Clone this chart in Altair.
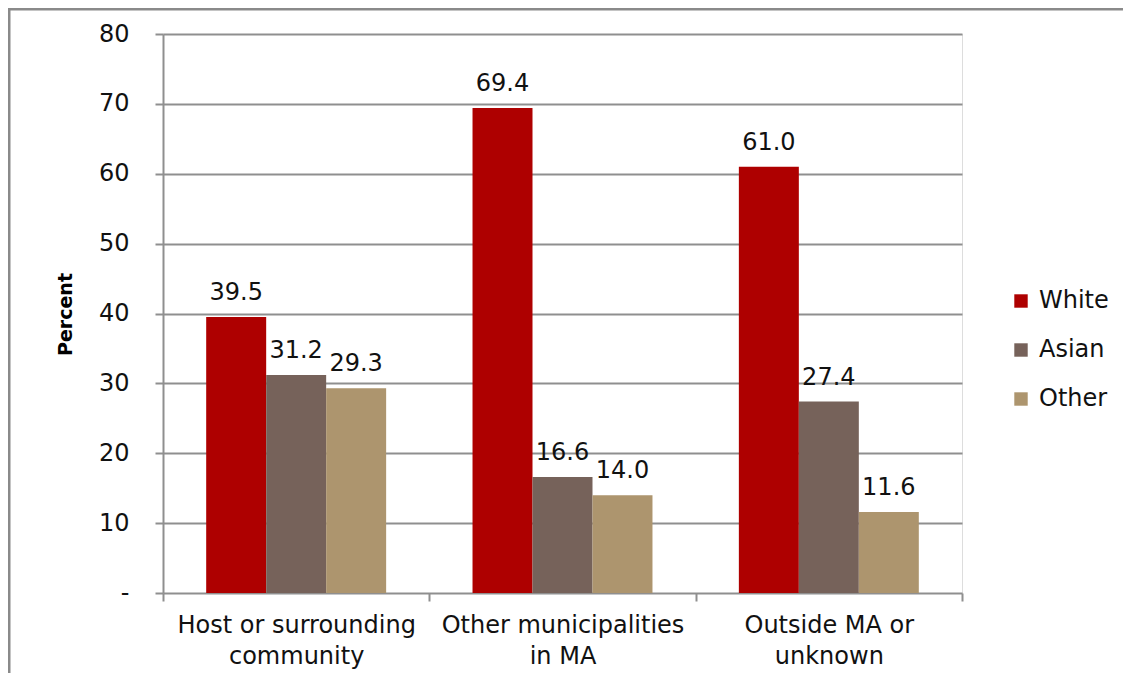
import altair as alt
import pandas as pd

categories = ["Host or surrounding community", "Other municipalities in MA", "Outside MA or unknown"]
category_lines = {
    "Host or surrounding community": ["Host or surrounding", "community"],
    "Other municipalities in MA": ["Other municipalities", "in MA"],
    "Outside MA or unknown": ["Outside MA or", "unknown"],
}
groups = ["White", "Asian", "Other"]
white = [39.5, 69.4, 61.0]
asian = [31.2, 16.6, 27.4]
other = [29.3, 14.0, 11.6]
colors = ["#AE0000", "#76625A", "#AD956E"]

rows = []
for i, c in enumerate(categories):
    for g, vals in zip(groups, [white, asian, other]):
        rows.append({"category": c, "group": g, "value": vals[i]})
df = pd.DataFrame(rows)

label_expr = "{" + ", ".join(
    f"'{k}': {list(v)}" for k, v in category_lines.items()
) + "}[datum.label]"

FONT = "DejaVu Sans"
GRID = "#8f8f8f"

x = alt.X(
    "category:N",
    sort=categories,
    title=None,
    scale=alt.Scale(paddingInner=0, paddingOuter=0),
    axis=alt.Axis(
        tickBand="extent",
        labelAngle=0,
        labelExpr=label_expr,
        labelLimit=0,
        labelFont=FONT,
        labelFontSize=24,
        labelColor="#111111",
        labelLineHeight=31,
        labelPadding=12,
        tickSize=8,
        tickColor=GRID,
        tickWidth=2,
        domain=False,
        grid=False,
    ),
)
xoff = alt.XOffset("group:N", sort=groups, scale=alt.Scale(paddingInner=0, paddingOuter=0.72))

base = alt.Chart(df).encode(x=x, xOffset=xoff)

bars = base.mark_bar().encode(
    y=alt.Y(
        "value:Q",
        title="Percent",
        scale=alt.Scale(domain=[0, 80]),
        axis=alt.Axis(
            values=[0, 10, 20, 30, 40, 50, 60, 70, 80],
            labelExpr="datum.value == 0 ? '-' : datum.label",
            labelFont=FONT,
            labelFontSize=24,
            labelColor="#111111",
            labelPadding=26,
            tickSize=8,
            tickColor=GRID,
            tickWidth=2,
            domain=True,
            domainColor=GRID,
            domainWidth=2,
            gridColor=GRID,
            gridWidth=2,
            gridOpacity=1,
            titleFont=FONT,
            titleFontSize=19,
            titleFontWeight="bold",
            titleColor="#000000",
            titleAngle=270,
            titleX=-98,
            titleY=280,
            titleAlign="center",
            titleBaseline="middle",
        ),
    ),
    color=alt.Color(
        "group:N",
        sort=groups,
        scale=alt.Scale(domain=groups, range=colors),
        legend=alt.Legend(
            title=None,
            orient="none",
            legendX=846,
            legendY=255,
            symbolType="square",
            symbolSize=180,
            symbolStrokeWidth=0,
            symbolOpacity=1,
            labelFont=FONT,
            labelFontSize=24,
            labelColor="#111111",
            rowPadding=25,
            labelOffset=6,
        ),
    ),
)

labels = base.mark_text(
    baseline="bottom", dy=-12, font=FONT, fontSize=24, color="#111111"
).encode(
    y="value:Q",
    text=alt.Text("value:Q", format=".1f"),
)

frame_data = alt.Data(values=[{"k": 1}])
frame_top = alt.Chart(frame_data).mark_rule(color="#8a8a8a", strokeWidth=3).encode(
    x=alt.value(-155), x2=alt.value(1000), y=alt.value(-25)
)
frame_left = alt.Chart(frame_data).mark_rule(color="#8a8a8a", strokeWidth=3).encode(
    x=alt.value(-154), y=alt.value(-26), y2=alt.value(700)
)

chart = (
    alt.layer(bars, labels, frame_top, frame_left)
    .properties(
        width=799,
        height=559,
        autosize=alt.AutoSizeParams(type="none"),
        padding={"left": 155, "top": 26, "right": 161, "bottom": 80},
    )
    .configure_view(strokeWidth=0, stroke="transparent")
    .configure_axis(domainColor="transparent")
    .configure_axisX(domain=False, grid=False)
    .configure(background="white")
)

chart.save("out.html", embed_options={"renderer": "svg", "actions": False})
